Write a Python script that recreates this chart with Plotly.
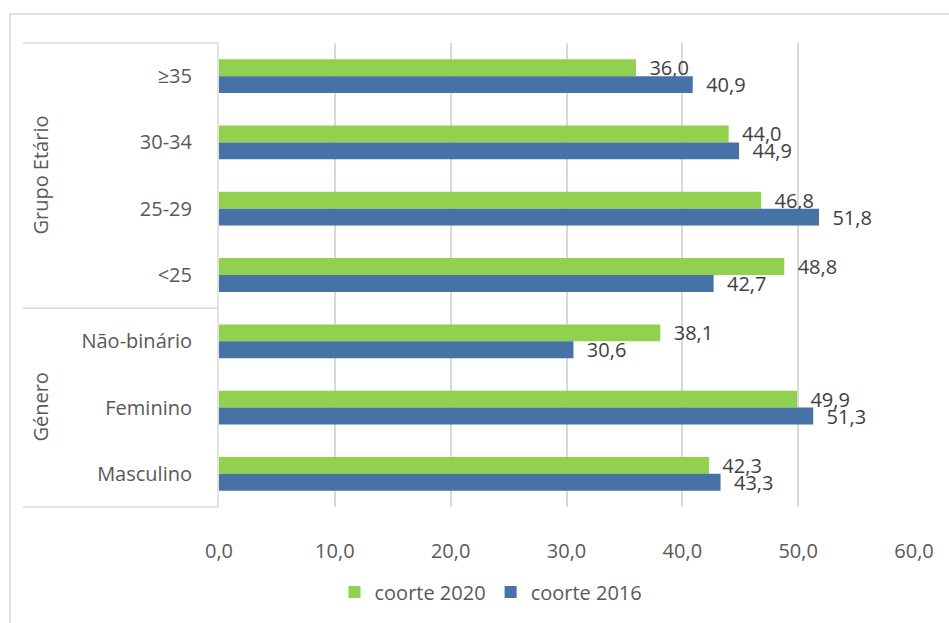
import plotly.graph_objects as go

categories = ["≥35", "30-34", "25-29", "<25", "Não-binário", "Feminino", "Masculino"]
groups = ["Grupo Etário", "Género"]
group_sizes = [4, 3]
coorte_2020 = [36.0, 44.0, 46.8, 48.8, 38.1, 49.9, 42.3]
coorte_2016 = [40.9, 44.9, 51.8, 42.7, 30.6, 51.3, 43.3]
x_ticks = [0, 10, 20, 30, 40, 50, 60]

W, H = 949, 623
L, R, T, B = 219, 35, 43, 116
pw, ph = W - L - R, H - T - B

def px_x(px):
    return (px - L) / pw

def px_y(py):
    return (H - B - py) / ph

GREEN = "#92D050"
BLUE = "#4672A6"
GRID = "#D9D9D9"
FONT = "Open Sans"

fig = go.Figure()
fig.add_trace(go.Bar(
    y=categories, x=coorte_2020, name="coorte 2020", orientation="h",
    marker=dict(color=GREEN, line=dict(width=0)),
    texttemplate="\u00a0\u00a0%{x:.1f}", textposition="outside", constraintext="none",
    textfont=dict(family=FONT, size=20, color="#404040"), cliponaxis=False,
))
fig.add_trace(go.Bar(
    y=categories, x=coorte_2016, name="coorte 2016", orientation="h",
    marker=dict(color=BLUE, line=dict(width=0)),
    texttemplate="\u00a0\u00a0%{x:.1f}", textposition="outside", constraintext="none",
    textfont=dict(family=FONT, size=20, color="#404040"), cliponaxis=False,
))

shapes = []
shapes.append(dict(type="rect", xref="paper", yref="paper",
                   x0=px_x(10), x1=px_x(W + 20), y0=px_y(H + 20), y1=px_y(14),
                   line=dict(color=GRID, width=1.5), fillcolor="rgba(0,0,0,0)", layer="below"))
for ypx in (43, 507):
    shapes.append(dict(type="line", xref="paper", yref="paper",
                       x0=px_x(23), x1=px_x(218), y0=px_y(ypx), y1=px_y(ypx),
                       line=dict(color=GRID, width=1.5)))
shapes.append(dict(type="line", xref="paper", yref="y",
                   x0=px_x(23), x1=px_x(218), y0=group_sizes[0] - 0.5, y1=group_sizes[0] - 0.5,
                   line=dict(color=GRID, width=1.5)))
shapes.append(dict(type="line", xref="paper", yref="paper",
                   x0=px_x(218), x1=px_x(218), y0=0, y1=1,
                   line=dict(color=GRID, width=1.5)))

annotations = []
start = 0
for g, n in zip(groups, group_sizes):
    center = start + (n - 1) / 2
    annotations.append(dict(text=g, xref="paper", yref="y", x=px_x(41), y=center,
                            showarrow=False, textangle=-90,
                            font=dict(family=FONT, size=20, color="#595959"),
                            xanchor="center", yanchor="middle"))
    start += n

fig.update_layout(
    width=W, height=H,
    margin=dict(l=L, r=R, t=T, b=B, autoexpand=False),
    paper_bgcolor="white", plot_bgcolor="white",
    barmode="group", bargap=0.49, bargroupgap=0,
    separators=",.",
    font=dict(family=FONT, size=20, color="#595959"),
    xaxis=dict(range=[0, 60], tickvals=x_ticks, tickformat=".1f",
               showgrid=True, gridcolor=GRID, gridwidth=1.5,
               zeroline=False, showline=False, ticks="",
               ticklabelstandoff=30,
               tickfont=dict(family=FONT, size=20, color="#595959")),
    yaxis=dict(autorange="reversed", showgrid=False, zeroline=False,
               showline=False, ticks="", ticklabelstandoff=26,
               tickfont=dict(family=FONT, size=20, color="#595959")),
    legend=dict(orientation="h", x=px_x(491), y=px_y(592), xanchor="center",
                yanchor="middle", font=dict(family=FONT, size=20, color="#595959"),
                traceorder="normal", itemwidth=30),
    shapes=shapes, annotations=annotations,
    showlegend=True,
)

fig.write_html("out.html", config={"displayModeBar": False},
               post_script="document.body.style.margin='0';")
